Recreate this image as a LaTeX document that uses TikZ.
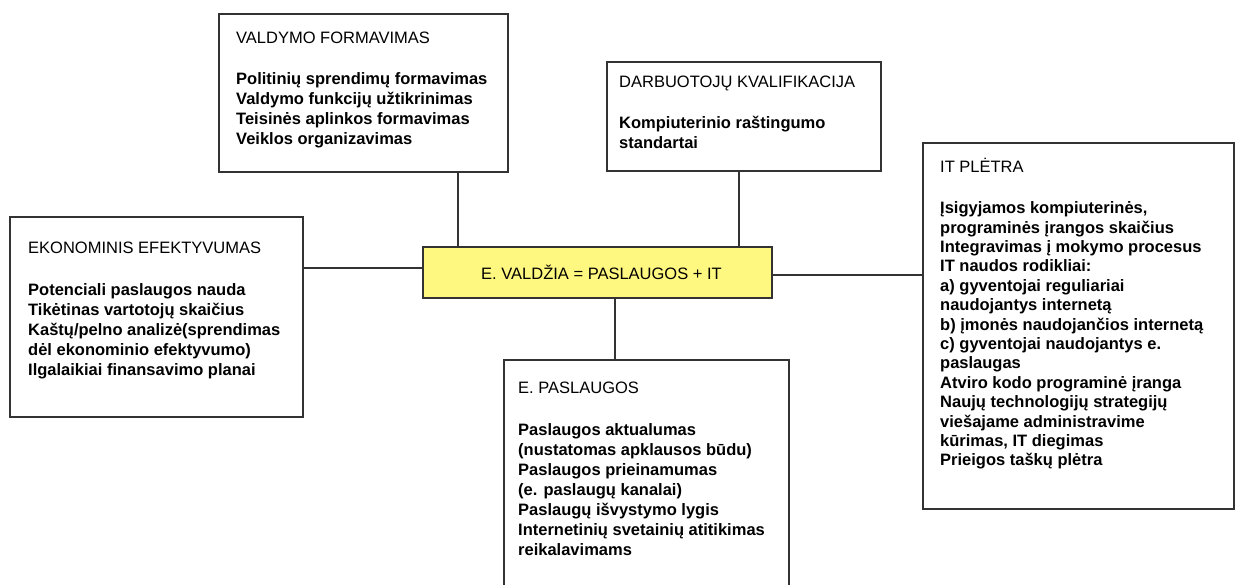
\documentclass[tikz,border=0pt]{standalone}
\usepackage{fontspec}
\setmainfont{Liberation Sans}
\begin{document}
\begin{tikzpicture}[x=1pt,y=-1pt,
  linec/.style={draw=black!80},
  boxnode/.style={linec, line width=1.3pt, fill=white, inner sep=0pt, rectangle},
  centerbox/.style={linec, line width=1.3pt, fill=yellow!50, inner sep=0pt, rectangle,
     minimum width=349pt, minimum height=51pt, font=\fontsize{16.5}{18}\selectfont},
  txt/.style={anchor=north west, inner sep=0pt, align=left, text=black,
     font=\fontsize{16.5}{20}\selectfont},
  txtit/.style={anchor=north west, inner sep=0pt, align=left, text=black,
     font=\fontsize{16.5}{19.4}\selectfont},
  conn/.style={linec, line width=1.1pt}]
\useasboundingbox (0,0) rectangle (1238,585);
\clip (0,0) rectangle (1238,585);
\fill[white] (0,0) rectangle (1238,585);

% boxes
\node[boxnode, minimum width=289pt, minimum height=158pt] (VAL) at (363.5,93) {};
\node[boxnode, minimum width=274pt, minimum height=109pt] (DARB) at (744,116.5) {};
\node[boxnode, minimum width=293pt, minimum height=200pt] (EKO) at (156.5,317) {};
\node[boxnode, minimum width=311pt, minimum height=366pt] (IT) at (1078.5,326) {};
\node[boxnode, minimum width=285pt, minimum height=250pt] (EPAS) at (646.5,485) {};
\node[centerbox] (C) at (597.5,272.5) {\hspace{8pt}E. VALDŽIA = PASLAUGOS + IT};

% connector positions
\coordinate (kv) at (458,0);
\coordinate (kd) at (739,0);
\coordinate (kp) at (615,0);
\coordinate (ke) at (0,268);
\coordinate (ki) at (0,275);

\draw[conn] (VAL.south -| kv) -- (C.north -| kv);
\draw[conn] (DARB.south -| kd) -- (C.north -| kd);
\draw[conn] (C.south -| kp) -- (EPAS.north -| kp);
\draw[conn] (EKO.east |- ke) -- (C.west |- ke);
\draw[conn] (C.east |- ki) -- (IT.west |- ki);

% texts
\node[txt] (VALt) at (236,27) {\rule{0pt}{16pt}VALDYMO FORMAVIMAS\\[21pt]
\bfseries Politinių sprendimų formavimas\\
\bfseries Valdymo funkcijų užtikrinimas\\
\bfseries Teisinės aplinkos formavimas\\
\bfseries Veiklos organizavimas};

\node[txt] (DARBt) at (619,71) {\rule{0pt}{16pt}DARBUOTOJŲ KVALIFIKACIJA\\[21pt]
\bfseries Kompiuterinio raštingumo\\
\bfseries standartai};

\node[txt] (EKOt) at (28,237) {\rule{0pt}{16pt}EKONOMINIS EFEKTYVUMAS\\[22pt]
\bfseries Potenciali paslaugos nauda\\
\bfseries Tikėtinas vartotojų skaičius\\
\bfseries Kaštų/pelno analizė(sprendimas\\
\bfseries dėl ekonominio efektyvumo)\\
\bfseries Ilgalaikiai finansavimo planai};

\node[txtit] (ITt) at (940,156) {\rule{0pt}{16pt}IT PLĖTRA\\[22pt]
\bfseries Įsigyjamos kompiuterinės,\\
\bfseries programinės įrangos skaičius\\
\bfseries Integravimas į mokymo procesus\\
\bfseries IT naudos rodikliai:\\
\bfseries a) gyventojai reguliariai\\
\bfseries naudojantys internetą\\
\bfseries b) įmonės naudojančios internetą\\
\bfseries c) gyventojai naudojantys e.\\
\bfseries paslaugas\\
\bfseries Atviro kodo programinė įranga\\
\bfseries Naujų technologijų strategijų\\
\bfseries viešajame administravime\\
\bfseries kūrimas, IT diegimas\\
\bfseries Prieigos taškų plėtra};

\node[txt] (EPASt) at (518,377) {\rule{0pt}{16pt}E. PASLAUGOS\\[22pt]
\bfseries Paslaugos aktualumas\\
\bfseries (nustatomas apklausos būdu)\\
\bfseries Paslaugos prieinamumas\\
\bfseries (e. paslaugų kanalai)\\
\bfseries Paslaugų išvystymo lygis\\
\bfseries Internetinių svetainių atitikimas\\
\bfseries reikalavimams};
\end{tikzpicture}
\end{document}
